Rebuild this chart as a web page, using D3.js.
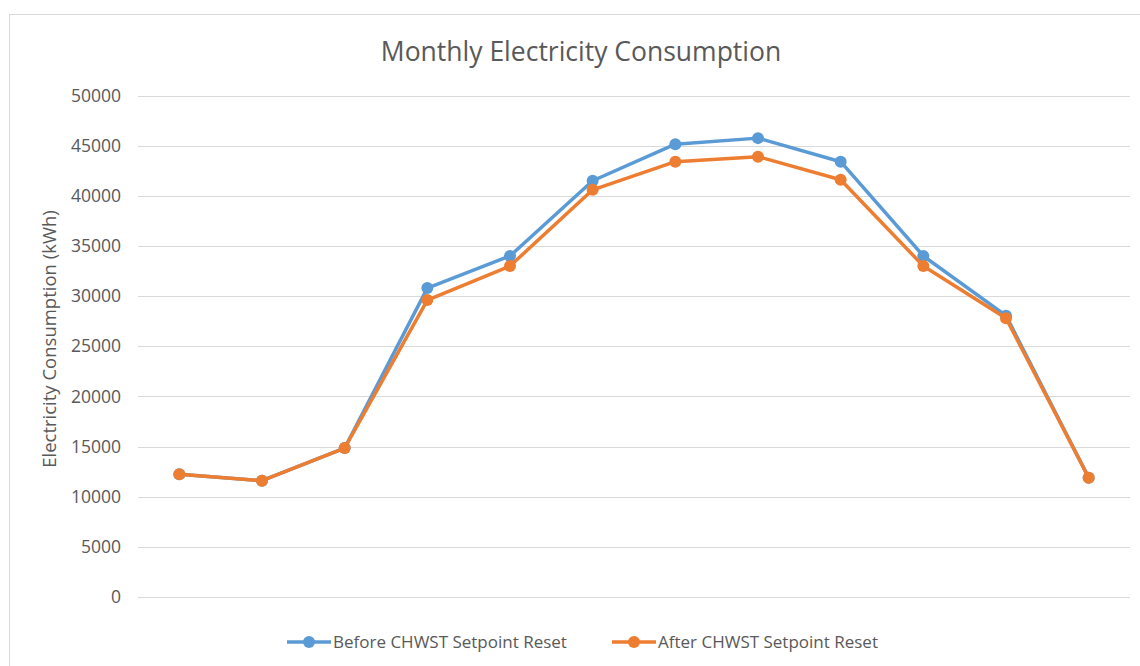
<!DOCTYPE html>
<html lang="en">
<head>
    <script src="https://d3js.org/d3.v7.min.js"></script>
    <title>Monthly Electricity Consumption</title>
    <style>
        body {margin: 0; background: #fff;}
        svg {display: block;}
        text {font-family: "Open Sans", "Liberation Sans", sans-serif; fill: #595959;}
        .grid line {stroke: #d9d9d9; stroke-width: 1;}
    </style>
</head>
<body>
<svg width="1140" height="666"></svg>

<script>
    // 월별 데이터 (x축 라벨은 원본에 표시되지 않음)
    var months = ['Jan', 'Feb', 'Mar', 'Apr', 'May', 'Jun', 'Jul', 'Aug', 'Sep', 'Oct', 'Nov', 'Dec'];
    var before = [12250, 11600, 14850, 30800, 34000, 41500, 45150, 45750, 43400, 34000, 28050, 11900];
    var after = [12250, 11600, 14850, 29600, 33000, 40600, 43400, 43900, 41600, 33000, 27800, 11900];
    var yTicks = [0, 5000, 10000, 15000, 20000, 25000, 30000, 35000, 40000, 45000, 50000];
    var seriesNames = ['Before CHWST Setpoint Reset', 'After CHWST Setpoint Reset'];
    var colors = ['#5b9bd5', '#ed7d31'];

    var svg = d3.select('svg');

    // 차트 테두리
    svg.append('rect')
        .attr('x', 9.5).attr('y', 14.5).attr('width', 1140).attr('height', 660)
        .attr('fill', 'none').attr('stroke', '#d9d9d9');

    var x = d3.scaleBand().domain(months).range([138, 1130]);
    var y = d3.scaleLinear().domain([0, 50000]).range([597, 95.5]);

    // 그리드
    svg.append('g').attr('class', 'grid')
        .selectAll('line').data(yTicks).enter().append('line')
        .attr('x1', 138).attr('x2', 1130)
        .attr('y1', d => Math.round(y(d)) + 0.5).attr('y2', d => Math.round(y(d)) + 0.5);

    // y축
    var yAxis = svg.append('g').attr('transform', 'translate(121,0)')
        .call(d3.axisLeft(y).tickValues(yTicks).tickSize(0).tickPadding(0).tickFormat(d3.format('d')));
    yAxis.select('.domain').remove();
    yAxis.selectAll('text').style('font-size', '17.5px').attr('fill', '#595959')
        .style('font-family', '"Open Sans", sans-serif');

    svg.append('text')
        .attr('transform', 'translate(56,339) rotate(-90)')
        .attr('text-anchor', 'middle')
        .style('font-size', '18.5px')
        .text('Electricity Consumption (kWh)');

    svg.append('text')
        .attr('x', 581).attr('y', 61)
        .attr('text-anchor', 'middle')
        .style('font-size', '26.5px')
        .text('Monthly Electricity Consumption');

    // 선 그래프
    var line = d3.line().x((d, i) => x(months[i]) + x.bandwidth() / 2).y(d => y(d));
    [before, after].forEach((s, k) => {
        svg.append('path').datum(s)
            .attr('d', line)
            .attr('fill', 'none')
            .attr('stroke', colors[k])
            .attr('stroke-width', 3.5)
            .attr('stroke-linejoin', 'round');
        svg.append('g').selectAll('circle')
            .data(s).enter().append('circle')
            .attr('cx', (d, i) => x(months[i]) + x.bandwidth() / 2)
            .attr('cy', d => y(d))
            .attr('r', 6)
            .attr('fill', colors[k]);
    });

    // 범례
    var legendX = [287, 612];
    var legend = svg.append('g').selectAll('g')
        .data(seriesNames).enter().append('g')
        .attr('transform', (d, i) => 'translate(' + legendX[i] + ',642)');
    legend.append('line')
        .attr('x1', 0).attr('x2', 44)
        .attr('stroke', (d, i) => colors[i]).attr('stroke-width', 3.5);
    legend.append('circle')
        .attr('cx', 22).attr('r', 6).attr('fill', (d, i) => colors[i]);
    legend.append('text')
        .attr('x', 46).attr('dy', '0.35em')
        .style('font-size', '17px')
        .text(d => d);
</script>
</body>
</html>
